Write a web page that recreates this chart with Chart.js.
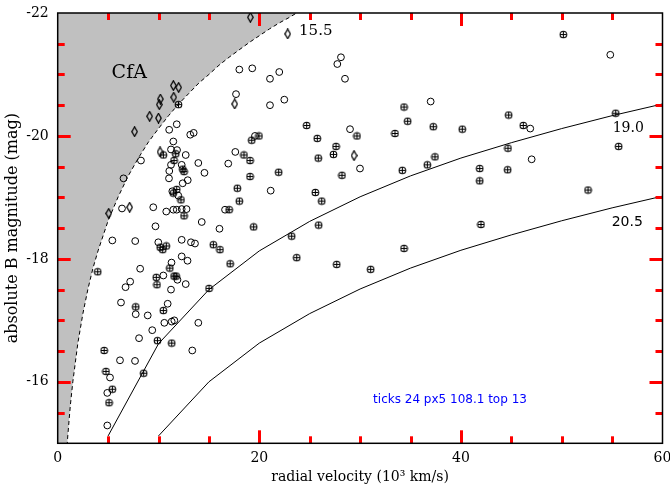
<!DOCTYPE html>
<html>
<head>
<meta charset="utf-8">
<script src="https://cdn.jsdelivr.net/npm/chart.js@4.4.1/dist/chart.umd.min.js"></script>
<style>
  html, body { margin: 0; padding: 0; background: #fff; }
  #wrap { width: 670px; height: 487px; position: relative; }
</style>
</head>
<body>
<div id="wrap"><canvas id="chart"></canvas></div>
<script>
// open circles (velocity in 10^3 km/s, absolute B mag)
const openVel = [19.30, 18.02, 17.69, 21.06, 21.98, 27.74, 28.10, 28.50, 21.06, 22.48, 29.00, 37.00, 54.82, 46.88, 47.02, 29.99, 21.13, 19.57,
  11.81, 11.06, 13.15, 13.49, 11.47, 11.24, 11.84, 12.70, 17.62, 8.26, 11.24, 12.30, 13.95, 16.92, 11.07, 14.56, 11.04, 12.90, 12.40, 6.53,
  11.37, 11.96, 6.38, 9.48, 10.77, 11.47, 11.81, 12.30, 12.78, 16.60, 14.29, 9.70, 16.05, 5.42, 7.69, 9.98, 12.30, 13.22, 13.62, 12.30,
  12.88, 11.29, 8.18, 10.48, 11.88, 7.19, 6.73, 12.70, 11.24, 6.28, 7.74, 8.93, 10.91, 10.58, 11.31, 11.57, 13.95, 9.38, 8.07, 13.35,
  6.18, 7.67, 5.19, 4.92, 4.92];
const openMag = [-21.10, -21.08, -20.68, -20.93, -21.04, -21.17, -21.28, -20.93, -20.50, -20.59, -20.11, -20.56, -21.32, -20.12, -19.62, -19.47, -19.11, -20.00,
  -20.19, -20.10, -20.02, -20.05, -19.91, -19.78, -19.77, -19.69, -19.74, -19.60, -19.53, -19.53, -19.56, -19.55, -19.43, -19.40, -19.31, -19.28, -19.23, -19.31,
  -19.10, -19.03, -18.82, -18.84, -18.77, -18.80, -18.80, -18.81, -18.81, -18.80, -18.60, -18.53, -18.49, -18.30, -18.29, -18.27, -18.31, -18.27, -18.25, -18.04,
  -17.97, -17.94, -17.84, -17.73, -17.66, -17.63, -17.54, -17.59, -17.50, -17.29, -17.10, -17.08, -17.27, -16.96, -16.98, -17.00, -16.96, -16.84, -16.71, -16.51,
  -16.35, -16.34, -16.07, -15.82, -15.29];

// circled plus
const plusVel = [11.98, 18.48, 19.25, 19.97, 10.48, 11.71, 11.54, 12.40, 12.53, 19.08, 19.08, 17.82, 18.02, 11.81, 11.47, 12.23, 12.53, 17.01, 19.44,
  10.17, 10.42, 10.77, 15.44, 16.10, 17.11, 11.12, 3.97, 11.55, 11.75, 9.78, 9.85, 15.01, 7.74, 10.48, 9.90, 11.31, 4.61, 4.79, 8.53, 5.42, 5.09,
  24.70, 25.75, 27.61, 27.36, 25.85, 29.69, 33.46, 34.36, 34.72, 37.26, 37.43, 21.92, 28.20, 25.56, 26.19, 34.19, 36.67, 25.89, 23.21, 23.71,
  27.68, 31.05, 34.36, 40.14, 44.74, 46.19, 44.67, 50.16, 55.36, 55.65, 41.87, 44.64, 41.87, 52.61, 41.99];
const plusMag = [-20.51, -19.69, -19.93, -20.00, -19.69, -19.71, -19.60, -19.46, -19.42, -19.60, -19.34, -19.15, -18.94, -19.13, -19.07, -18.96, -18.70, -18.80, -18.52,
  -18.19, -18.15, -18.21, -18.23, -18.15, -17.92, -17.85, -17.79, -17.72, -17.72, -17.70, -17.58, -17.52, -17.22, -17.16, -16.67, -16.63, -16.51, -16.17, -16.14, -15.88, -15.66,
  -20.17, -19.96, -19.83, -19.70, -19.64, -20.00, -20.04, -20.47, -20.24, -20.15, -19.66, -19.41, -19.36, -19.08, -18.94, -19.44, -19.53, -18.55, -18.37, -18.02,
  -17.91, -17.83, -18.17, -20.11, -20.34, -20.17, -19.80, -21.65, -20.37, -19.83, -19.47, -19.45, -19.27, -19.12, -18.56];

// diamonds
const diaVel = [19.11, 22.82, 11.47, 12.00, 10.18, 11.51, 10.08, 9.12, 10.00, 7.63, 17.56, 10.15, 29.40, 7.14, 5.06];
const diaMag = [-21.93, -21.66, -20.82, -20.79, -20.60, -20.63, -20.51, -20.32, -20.29, -20.07, -20.52, -19.74, -19.68, -18.84, -18.74];

// CfA limit (m = 15.5), dashed
const cfaVel = [0, 0.8, 1, 1.25, 1.5, 2, 2.5, 3, 3.5, 4, 5, 6, 7, 8, 9, 10, 11, 12, 13, 14, 15, 16, 17, 18, 19, 20, 21, 22, 23, 24, 25];
const cfaMag = [-14.6, -14.64, -15.12, -15.61, -16.0, -16.63, -17.11, -17.51, -17.85, -18.13, -18.62, -19.01, -19.35, -19.64, -19.90, -20.12,
  -20.33, -20.52, -20.69, -20.86, -21.00, -21.15, -21.28, -21.40, -21.52, -21.63, -21.74, -21.84, -21.93, -22.03, -22.11];

// limits m = 19.0 and m = 20.5
const lim19Vel = [5, 10, 15, 20, 25, 30, 35, 40, 45, 50, 55, 60];
const lim19Mag = [-15.12, -16.62, -17.50, -18.13, -18.61, -19.01, -19.35, -19.64, -19.89, -20.12, -20.33, -20.52];
const lim205Vel = [10, 15, 20, 25, 30, 35, 40, 45, 50, 55, 60];
const lim205Mag = [-15.12, -16.00, -16.63, -17.11, -17.51, -17.85, -18.14, -18.39, -18.62, -18.83, -19.02];

const xLabelVals = [0, 20, 40, 60];
const yLabelVals = [-22, -20, -18, -16];

// text labels on the plot (data coords)
const notes = [
  { text: 'CfA', v: 7.1, m: -21.02, font: '19px "DejaVu Serif"' },
  { text: '15.5', v: 25.6, m: -21.7, font: '15px "DejaVu Serif"' },
  { text: '19.0', v: 56.6, m: -20.12, font: '14px "DejaVu Serif"' },
  { text: '20.5', v: 56.5, m: -18.59, font: '14px "DejaVu Sans"' }
];

const pts = (xs, ys) => xs.map((x, i) => ({ x: x, y: ys[i] }));

function plusMarker() {
  const c = document.createElement('canvas');
  c.width = 9; c.height = 9;
  const g = c.getContext('2d');
  g.strokeStyle = '#000';
  g.lineWidth = 1.1;
  g.beginPath(); g.arc(4.5, 4.5, 3.3, 0, 2 * Math.PI); g.stroke();
  g.beginPath();
  g.moveTo(1.3, 4.5); g.lineTo(7.7, 4.5);
  g.moveTo(4.5, 1.3); g.lineTo(4.5, 7.7);
  g.stroke();
  return c;
}

function diamondMarker() {
  const c = document.createElement('canvas');
  c.width = 7; c.height = 11;
  const g = c.getContext('2d');
  g.strokeStyle = '#000';
  g.lineWidth = 1.3;
  g.beginPath();
  g.moveTo(3.5, 0.8); g.lineTo(6.2, 5.5); g.lineTo(3.5, 10.2); g.lineTo(0.8, 5.5);
  g.closePath();
  g.stroke();
  return c;
}

// frame, inward ticks and the text notes
const framePlugin = {
  id: 'frame',
  afterDraw(chart) {
    const ctx = chart.ctx;
    const a = chart.chartArea;
    const xs = chart.scales.x, ys = chart.scales.y;
    ctx.save();
    ctx.fillStyle = 'red';
    let count = 0;
    for (let v = 5; v < 60; v += 5) {
      const px = Math.round(xs.getPixelForValue(v)) - 1;
      const len = v % 20 === 0 ? 13 : 7;
      ctx.fillRect(px, a.bottom - len, 3, len);
      ctx.fillRect(px, a.top, 3, len);
      count++;
    }
    for (let m = -21.5; m < -15; m += 0.5) {
      const py = Math.round(ys.getPixelForValue(m)) - 1;
      const len = m % 2 === 0 ? 13 : 7;
      ctx.fillRect(a.left, py, len, 3);
      ctx.fillRect(a.right - len, py, len, 3);
      count++;
    }
    ctx.strokeStyle = '#000';
    ctx.lineWidth = 1.5;
    ctx.strokeRect(a.left, a.top, a.right - a.left, a.bottom - a.top);
    ctx.fillStyle = '#000';
    ctx.textAlign = 'center';
    ctx.textBaseline = 'middle';
    notes.forEach(n => {
      ctx.font = n.font;
      ctx.fillText(n.text, xs.getPixelForValue(n.v), ys.getPixelForValue(n.m));
    });
    ctx.font = '12px "DejaVu Sans"';
    ctx.fillStyle = 'blue';
    ctx.fillText('ticks ' + count + ' px5 ' + xs.getPixelForValue(5).toFixed(1) + ' top ' + a.top, 450, 400);
    ctx.restore();
  }
};

Chart.defaults.font.family = '"DejaVu Serif", serif';
Chart.defaults.font.size = 14;
Chart.defaults.color = '#000';

new Chart(document.getElementById('chart'), {
  type: 'scatter',
  data: {
    datasets: [
      {
        label: 'open',
        data: pts(openVel, openMag),
        pointStyle: 'circle',
        pointRadius: 3.4,
        borderWidth: 1,
        borderColor: '#000',
        backgroundColor: 'rgba(0,0,0,0)',
        order: 1
      },
      {
        label: 'plus',
        data: pts(plusVel, plusMag),
        pointStyle: plusMarker(),
        pointRadius: 4,
        order: 0
      },
      {
        label: 'diamond',
        data: pts(diaVel, diaMag),
        pointStyle: diamondMarker(),
        pointRadius: 4,
        order: 0
      },
      {
        label: '19.0',
        data: pts(lim19Vel, lim19Mag),
        showLine: true,
        pointRadius: 0,
        borderColor: '#000',
        borderWidth: 1,
        order: 5
      },
      {
        label: '20.5',
        data: pts(lim205Vel, lim205Mag),
        showLine: true,
        pointRadius: 0,
        borderColor: '#000',
        borderWidth: 1,
        order: 5
      },
      {
        label: 'CfA',
        data: pts(cfaVel, cfaMag),
        showLine: true,
        pointRadius: 0,
        borderColor: '#000',
        borderWidth: 1,
        borderDash: [4, 3],
        backgroundColor: '#c0c0c0',
        fill: { value: -22 },
        order: 10
      }
    ]
  },
  options: {
    responsive: true,
    maintainAspectRatio: false,
    animation: false,
    events: [],
    layout: { padding: { top: 13, right: 7.5, left: 0, bottom: 0 } },
    plugins: {
      legend: { display: false },
      tooltip: { enabled: false }
    },
    scales: {
      x: {
        type: 'linear',
        min: 0,
        max: 60,
        grid: { display: false, drawTicks: false },
        border: { display: false },
        ticks: {
          stepSize: 5,
          autoSkip: false,
          maxRotation: 0,
          padding: 7,
          callback: v => xLabelVals.includes(v) ? String(v) : ''
        },
        title: {
          display: true,
          text: 'radial velocity (10³ km/s)',
          padding: { top: 0, bottom: 1 }
        },
        afterFit(s) { s.height = 43.7; s.paddingLeft = 0; s.paddingRight = 0; }
      },
      y: {
        type: 'linear',
        reverse: true,
        min: -22,
        max: -15,
        grid: { display: false, drawTicks: false },
        border: { display: false },
        ticks: {
          stepSize: 0.5,
          autoSkip: false,
          padding: 9,
          callback: v => yLabelVals.includes(v) ? String(v) : ''
        },
        title: {
          display: true,
          text: 'absolute B magnitude (mag)',
          font: { size: 16 },
          padding: { top: 3, bottom: 0 }
        },
        afterFit(s) { s.width = 57.7; s.paddingTop = 0; s.paddingBottom = 0; }
      }
    }
  },
  plugins: [framePlugin]
});
</script>
</body>
</html>
